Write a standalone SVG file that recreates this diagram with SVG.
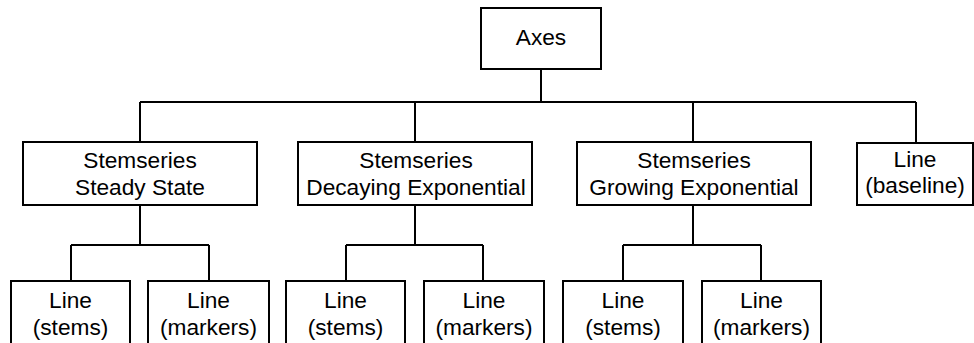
<svg xmlns="http://www.w3.org/2000/svg" width="974" height="343" viewBox="0 0 974 343">
<style>
.box{fill:#fff;stroke:#000;stroke-width:2}
.c{fill:none;stroke:#000;stroke-width:2}
text{font-family:"Liberation Sans",Arial,sans-serif;font-size:22.7px;fill:#000;text-anchor:middle}
</style>
<rect width="974" height="343" fill="#fff"/>
<g id="connectors" class="c">
<path d="M541,69V102M140,102H916M140,102V142M415,102V142M693,102V142M916,102V143"/>
<path d="M140,205V245M71,245H209M71,245V281M209,245V281"/>
<path d="M415,205V245M346,245H483M346,245V281M483,245V281"/>
<path d="M693,205V245M623,245H761M623,245V281M761,245V281"/>
</g>
<g id="axes"><rect class="box" x="481" y="8" width="120" height="61"/><text x="541" y="45">Axes</text></g>
<g id="steady"><rect class="box" x="23" y="142" width="234" height="63"/><text x="140" y="168">Stemseries</text><text x="140" y="195">Steady State</text></g>
<g id="decaying"><rect class="box" x="298" y="142" width="234" height="63"/><text x="416" y="168">Stemseries</text><text x="416" y="195">Decaying Exponential</text></g>
<g id="growing"><rect class="box" x="577" y="142" width="234" height="63"/><text x="694" y="168">Stemseries</text><text x="694" y="195">Growing Exponential</text></g>
<g id="baseline"><rect class="box" x="857" y="143" width="116" height="62"/><text x="915" y="167">Line</text><text x="915" y="193">(baseline)</text></g>
<g id="ss-stems"><rect class="box" x="11" y="281" width="119" height="80"/><text x="70.5" y="308">Line</text><text x="70.5" y="335">(stems)</text></g>
<g id="ss-markers"><rect class="box" x="148" y="281" width="121" height="80"/><text x="208.5" y="308">Line</text><text x="208.5" y="335">(markers)</text></g>
<g id="de-stems"><rect class="box" x="286" y="281" width="119" height="80"/><text x="345.5" y="308">Line</text><text x="345.5" y="335">(stems)</text></g>
<g id="de-markers"><rect class="box" x="424" y="281" width="120" height="80"/><text x="484" y="308">Line</text><text x="484" y="335">(markers)</text></g>
<g id="ge-stems"><rect class="box" x="563" y="281" width="120" height="80"/><text x="623" y="308">Line</text><text x="623" y="335">(stems)</text></g>
<g id="ge-markers"><rect class="box" x="702" y="281" width="119" height="80"/><text x="761.5" y="308">Line</text><text x="761.5" y="335">(markers)</text></g>
</svg>
